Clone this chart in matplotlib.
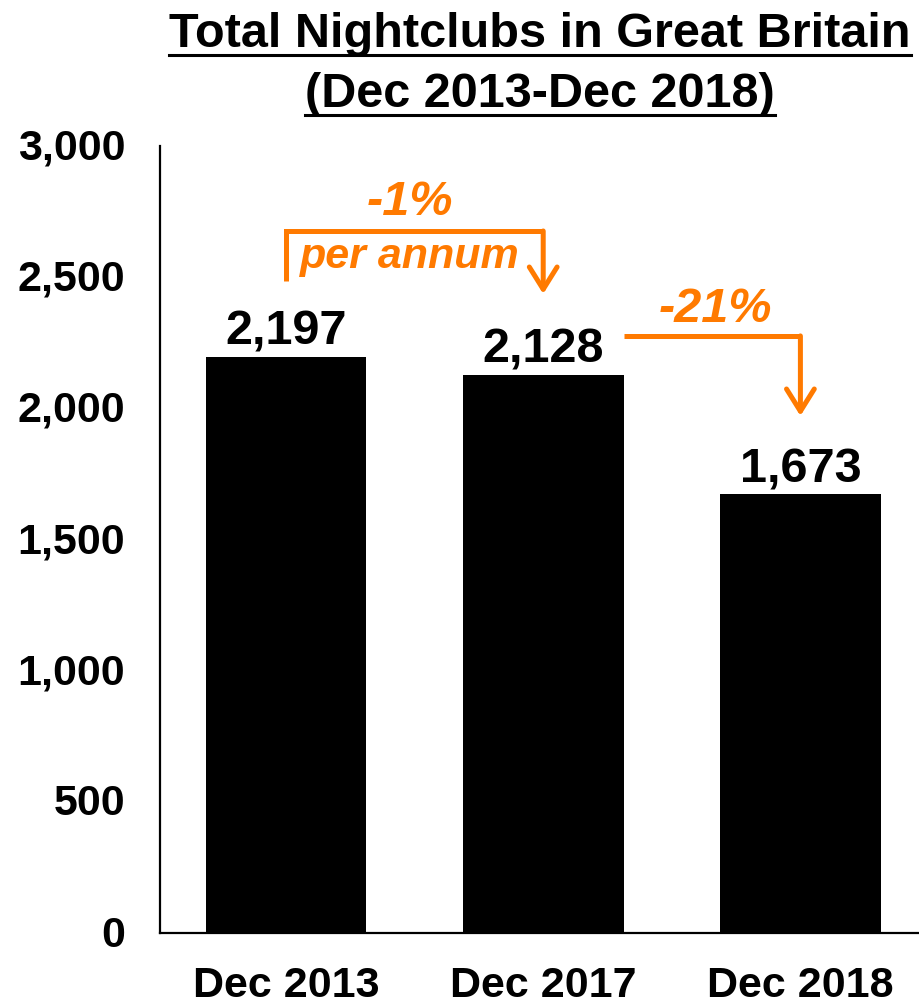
import matplotlib
matplotlib.use("Agg")
import matplotlib.pyplot as plt
from matplotlib.ticker import FuncFormatter
from matplotlib.transforms import ScaledTranslation

periods = ["Dec 2013", "Dec 2017", "Dec 2018"]
clubs = [2197, 2128, 1673]
years_between = [4, 1]
yticks = [0, 500, 1000, 1500, 2000, 2500, 3000]

ORANGE = "#FF7A00"
plt.rcParams["font.family"] = ["Liberation Sans", "DejaVu Sans"]
plt.rcParams["font.weight"] = "bold"

fig = plt.figure(figsize=(9.2, 10.04), dpi=100)
ax = fig.add_axes([0.1739, 0.0697, 0.8261, 0.7839])

x = list(range(len(periods)))
ax.bar(x, clubs, width=0.625, color="black")
ax.set_xlim(-0.49, 2.465)
ax.set_ylim(0, 3000)
ax.set_yticks(yticks)
ax.yaxis.set_major_formatter(FuncFormatter(lambda v, p: f"{v:,.0f}"))
ax.set_xticks(x)
ax.set_xticklabels(periods)
ax.tick_params(axis="y", length=0, pad=25, labelsize=31)
ax.tick_params(axis="x", length=0, pad=23, labelsize=31)
nudge = ScaledTranslation(0, 3 / 100, fig.dpi_scale_trans)
for lab in ax.get_yticklabels():
    lab.set_transform(lab.get_transform() + nudge)
for s in ("top", "right"):
    ax.spines[s].set_visible(False)
for s in ("left", "bottom"):
    ax.spines[s].set_linewidth(1.6)

for xi, v in zip(x, clubs):
    ax.text(xi, v + 50, f"{v:,}", ha="center", va="baseline", fontsize=35)

# growth brackets
cagr = (clubs[1] / clubs[0]) ** (1 / years_between[0]) - 1
yoy = clubs[2] / clubs[1] - 1
lw = 3.6
arrow = dict(arrowstyle="->,head_length=1.6,head_width=1.0", color=ORANGE, lw=lw,
             shrinkA=0, shrinkB=0)

top1 = 2676
ax.plot([x[0], x[0], x[1]], [2485, top1, top1], color=ORANGE, lw=lw,
        solid_joinstyle="miter", solid_capstyle="butt")
ax.annotate("", xy=(x[1], 2436), xytext=(x[1], top1), arrowprops=arrow)
ax.text(0.48, 2741, f"{cagr * 100:.0f}%", ha="center", va="baseline",
        fontsize=35, style="italic", color=ORANGE)
ax.text(0.48, 2539, "per annum", ha="center", va="baseline",
        fontsize=31, style="italic", color=ORANGE)

top2 = 2276
ax.plot([1.316, x[2]], [top2, top2], color=ORANGE, lw=lw, solid_capstyle="butt")
ax.annotate("", xy=(x[2], 1971), xytext=(x[2], top2), arrowprops=arrow)
ax.text(1.67, 2332, f"{yoy * 100:.0f}%", ha="center", va="baseline",
        fontsize=35, style="italic", color=ORANGE)

# underlined two-line title
title_lines = ["Total Nightclubs in Great Britain", "(Dec 2013-Dec 2018)"]
baselines = [1004 - 47, 1004 - 107]
fig.canvas.draw()
r = fig.canvas.get_renderer()
for line, by in zip(title_lines, baselines):
    t = fig.text(0.587, by / 1004, line, ha="center", va="baseline", fontsize=35)
    bb = t.get_window_extent(renderer=r)
    uy = (by - 9) / 1004
    fig.add_artist(plt.Line2D([bb.x0 / 920, bb.x1 / 920], [uy, uy],
                              color="black", lw=2.2, transform=fig.transFigure))

fig.savefig("out.png", dpi=100)
